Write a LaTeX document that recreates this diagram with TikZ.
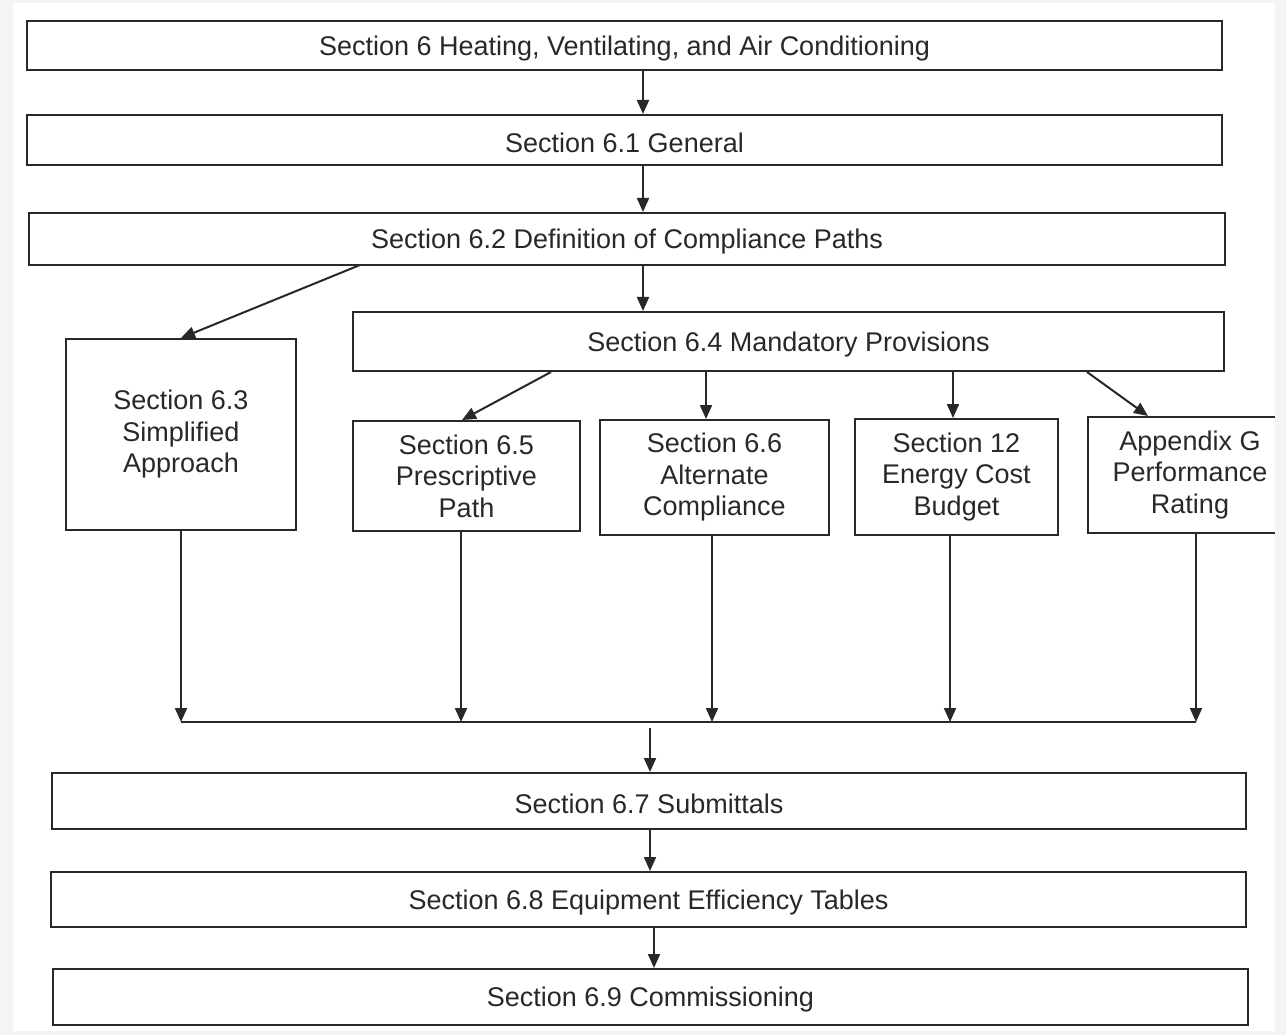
\documentclass[tikz,border=0pt]{standalone}
\usepackage{fontspec}
\setmainfont{Liberation Sans}
\usetikzlibrary{arrows.meta}
\definecolor{edge}{RGB}{245,244,242}
\definecolor{ink}{RGB}{40,40,40}
\begin{document}
\begin{tikzpicture}[x=1pt,y=-1pt,
  box/.style={draw=ink, line width=2pt, fill=white, inner sep=0pt, align=center,
    text=ink, font=\fontsize{27}{31.5}\selectfont,
    execute at begin node={\rule{0pt}{25.5pt}}},
  mbox/.style={box, execute at begin node={\rule{0pt}{30pt}}},
  arr/.style={draw=ink, line width=2pt, -{Triangle[length=14pt,width=12pt]}},
  ln/.style={draw=ink, line width=2pt}]
\useasboundingbox (0,0) rectangle (1286,1035);
\fill[white] (0,0) rectangle (1286,1035);
% boxes
\node[box, minimum width=1195pt, minimum height=49pt] (s6) at (624.5,45.5) {Section 6 Heating, Ventilating, and Air Conditioning};
\node[box, minimum width=1195pt, minimum height=50pt] (s61) at (624.5,140) {Section 6.1 General};
\node[box, minimum width=1196pt, minimum height=52pt] (s62) at (627,239) {Section 6.2 Definition of Compliance Paths};
\node[box, minimum width=871pt, minimum height=59pt] (s64) at (788.5,341.5) {Section 6.4 Mandatory Provisions};
\node[mbox, minimum width=230pt, minimum height=191pt] (s63) at (181,434.5) {Section 6.3\\Simplified\\Approach};
\node[mbox, minimum width=227pt, minimum height=110pt] (s65) at (466.5,476) {Section 6.5\\Prescriptive\\Path};
\node[mbox, minimum width=229pt, minimum height=115pt] (s66) at (714.5,477.5) {Section 6.6\\Alternate\\Compliance};
\node[mbox, minimum width=203pt, minimum height=116pt] (s12) at (956.5,477) {Section 12\\Energy Cost\\Budget};
\node[mbox, minimum width=204pt, minimum height=116pt] (apg) at (1190,475) {Appendix G\\Performance\\Rating};
\node[box, minimum width=1194pt, minimum height=56pt] (s67) at (649,801) {Section 6.7 Submittals};
\node[box, minimum width=1195pt, minimum height=55pt] (s68) at (648.5,899.5) {Section 6.8 Equipment Efficiency Tables};
\node[box, minimum width=1195pt, minimum height=56pt] (s69) at (650.5,997) {Section 6.9 Commissioning};
% vertical arrows at the top
\draw[arr] (s6.south -| 643,0) -- (s61.north -| 643,0);
\draw[arr] (s61.south -| 643,0) -- (s62.north -| 643,0);
\draw[arr] (s62.south -| 643,0) -- (s64.north -| 643,0);
% diagonal arrows
\coordinate (d1) at (360,265);
\coordinate (d2) at (551,372);
\coordinate (d3) at (1087,372);
\draw[arr] (d1) -- (s63.north);
\draw[arr] (d2) -- (s65.north -| 462,0);
\draw[arr] (d3) -- (apg.north -| 1148,0);
\draw[arr] (s64.south -| 706,0) -- (s66.north -| 706,0);
\draw[arr] (s64.south -| 953,0) -- (s12.north -| 953,0);
% merge
\coordinate (m1) at (181,722);
\coordinate (m5) at (1196,722);
\draw[arr] (s63.south) -- (m1);
\draw[arr] (s65.south -| 461,0) -- (461,722);
\draw[arr] (s66.south -| 712,0) -- (712,722);
\draw[arr] (s12.south -| 950,0) -- (950,722);
\draw[arr] (apg.south -| 1196,0) -- (m5);
\draw[ln] (m1) -- (m5);
\coordinate (c1) at (650,728);
\draw[arr] (c1) -- (s67.north -| c1);
\draw[arr] (s67.south -| 650,0) -- (s68.north -| 650,0);
\draw[arr] (s68.south -| 654,0) -- (s69.north -| 654,0);
% light frame
\fill[edge, even odd rule] (0,0) rectangle (1286,1035) (13,3) rectangle (1275,1031);
\end{tikzpicture}
\end{document}
